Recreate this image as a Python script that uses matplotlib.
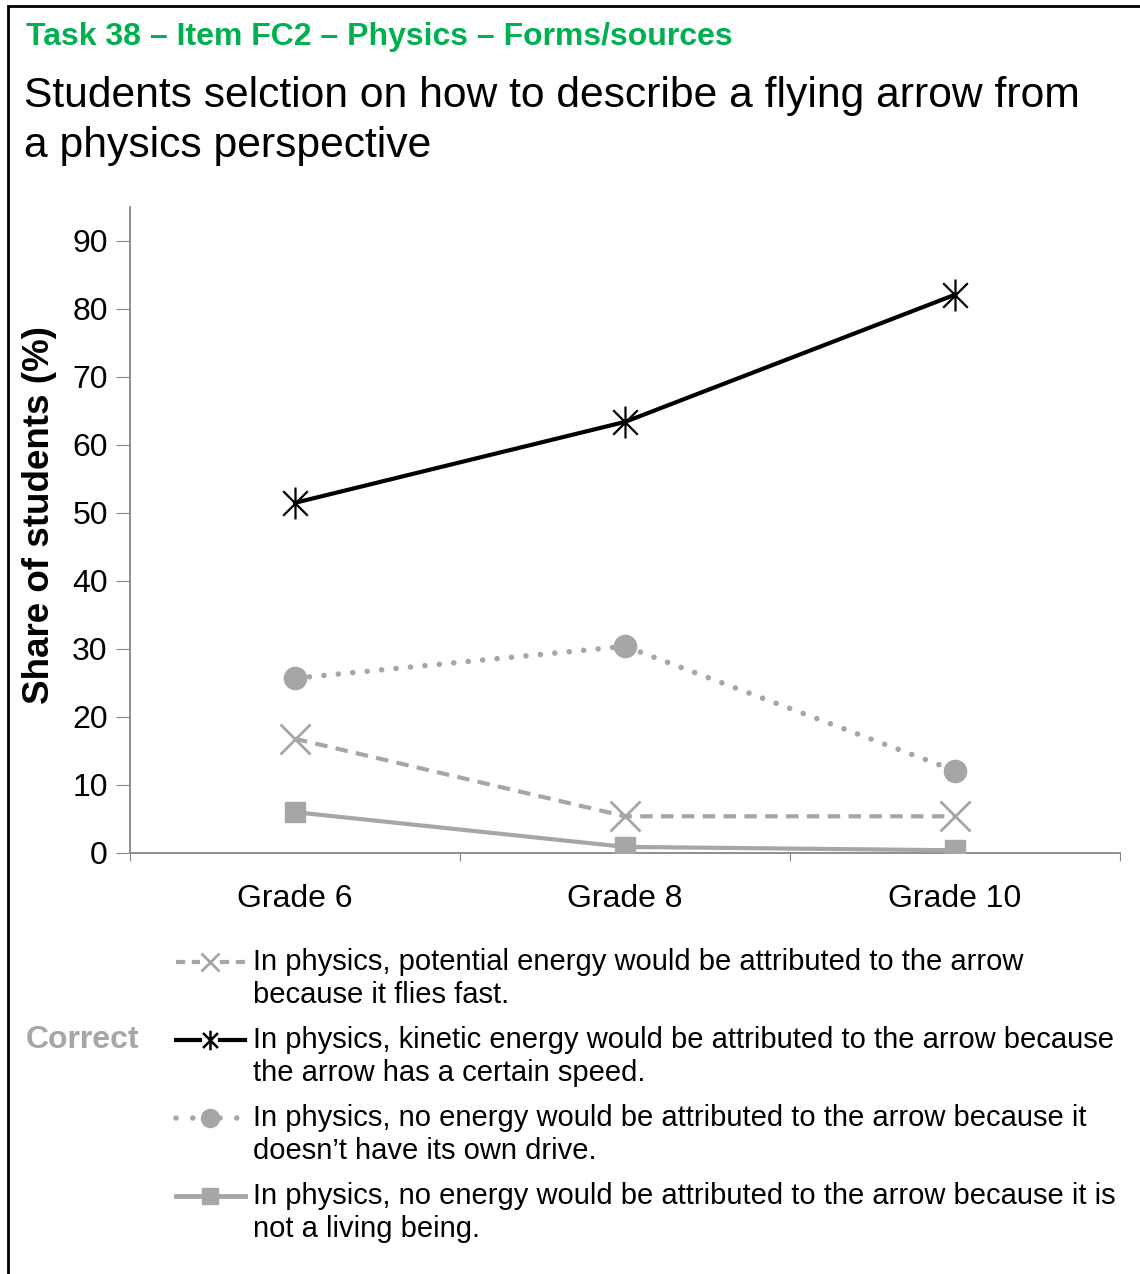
import matplotlib
matplotlib.use('Agg')
import matplotlib.pyplot as plt
from matplotlib.path import Path
from matplotlib.lines import Line2D

plt.rcParams['font.family'] = ['Liberation Sans', 'DejaVu Sans']

# data
grades = ['Grade 6', 'Grade 8', 'Grade 10']
potential = [16.8, 5.4, 5.4]
kinetic = [51.5, 63.4, 82.1]
no_drive = [25.7, 30.4, 12.1]
not_living = [6.0, 0.9, 0.4]
y_ticks = [0, 10, 20, 30, 40, 50, 60, 70, 80, 90]

legend_texts = [
    'In physics, potential energy would be attributed to the arrow\nbecause it flies fast.',
    'In physics, kinetic energy would be attributed to the arrow because\nthe arrow has a certain speed.',
    'In physics, no energy would be attributed to the arrow because it\ndoesn\u2019t have its own drive.',
    'In physics, no energy would be attributed to the arrow because it is\nnot a living being.',
]

GRAY = '#A6A6A6'
GREEN = '#00B050'
AXIS = '#868686'

W, H = 1140, 1274
fig = plt.figure(figsize=(W / 100, H / 100), dpi=100)

# asterisk marker: x plus vertical bar
star = Path([(-1, -1), (1, 1), (-1, 1), (1, -1), (0, -1.3), (0, 1.3)],
            [Path.MOVETO, Path.LINETO, Path.MOVETO, Path.LINETO, Path.MOVETO, Path.LINETO])

ax = fig.add_axes([130 / W, 1 - 853 / H, 990 / W, 646 / H])
x = list(range(len(grades)))

ax.plot(x, not_living, color=GRAY, lw=3, marker='s', ms=15, mec=GRAY, mfc=GRAY, zorder=3)
ax.plot(x, potential, color=GRAY, lw=3, ls=(0, (3, 2)), marker='x', ms=22, mew=2, mec=GRAY, zorder=3)
ax.plot(x, no_drive, color=GRAY, lw=4, ls=(0, (0.01, 2.6)), dash_capstyle='round',
        marker='o', ms=16, mec=GRAY, mfc=GRAY, zorder=3)
ax.plot(x, kinetic, color='black', lw=3, marker=star, ms=23, mew=1.6, mec='black', zorder=4)

ax.set_xlim(-0.5, 2.5)
ax.set_ylim(0, 95)
ax.set_yticks(y_ticks)
ax.set_yticklabels([str(v) for v in y_ticks], fontsize=23)
ax.set_xticks([-0.5, 0.5, 1.5, 2.5])
ax.set_xticklabels([])
ax.set_xticks(x, minor=True)
ax.set_xticklabels(grades, minor=True, fontsize=23)
ax.tick_params(axis='x', which='minor', length=0, pad=22)
ax.tick_params(axis='x', which='major', length=6, color=AXIS, direction='out')
ax.tick_params(axis='y', length=10, color=AXIS, direction='out', pad=6)
for s in ['top', 'right']:
    ax.spines[s].set_visible(False)
for s in ['left', 'bottom']:
    ax.spines[s].set_color(AXIS)
    ax.spines[s].set_linewidth(1.3)

fig.text(40 / W, 1 - 515 / H, 'Share of students (%)', rotation=90, fontsize=26.5,
         fontweight='bold', ha='center', va='center')

# titles
fig.text(26 / W, 1 - 22 / H, 'Task 38 \u2013 Item FC2 \u2013 Physics \u2013 Forms/sources',
         color=GREEN, fontsize=23, fontweight='bold', ha='left', va='top')
fig.text(24 / W, 1 - 76 / H, 'Students selction on how to describe a flying arrow from\na physics perspective',
         fontsize=30.7, ha='left', va='top', linespacing=1.33)

# legend drawn in pixel coordinates
lg = fig.add_axes([0, 0, 1, 1])
lg.set_xlim(0, W)
lg.set_ylim(H, 0)
lg.axis('off')

styles = [
    dict(color=GRAY, lw=3, ls=(0, (2.2, 1.6)), marker='x', ms=13, mew=2, mec=GRAY),
    dict(color='black', lw=3, marker=star, ms=14, mew=1.8, mec='black'),
    dict(color=GRAY, lw=4, ls=(0, (0.01, 3.0)), dash_capstyle='round', marker='o', ms=13, mec=GRAY, mfc=GRAY),
    dict(color=GRAY, lw=3.5, marker='s', ms=12, mec=GRAY, mfc=GRAY),
]
mkeys = ('marker', 'ms', 'mew', 'mec', 'mfc')
rows = [962, 1040, 1118, 1196]
for yy, txt, st in zip(rows, legend_texts, styles):
    line_kw = {k: v for k, v in st.items() if k not in mkeys}
    lg.add_line(Line2D([176, 200], [yy, yy], **line_kw))
    lg.add_line(Line2D([220, 245], [yy, yy], **line_kw))
    lg.add_line(Line2D([210], [yy], ls='none', **{k: v for k, v in st.items() if k in mkeys}))
    lg.text(253, yy - 14, txt, fontsize=21, ha='left', va='top', linespacing=1.22)
lg.text(26, 1040, 'Correct', fontsize=23, fontweight='bold', color=GRAY, ha='left', va='center')

# frame: only left and top edges
lg.add_line(Line2D([8, 8, W], [H, 6, 6], color='black', lw=2, solid_joinstyle='miter'))

fig.savefig('out.png', dpi=100, facecolor='white')
